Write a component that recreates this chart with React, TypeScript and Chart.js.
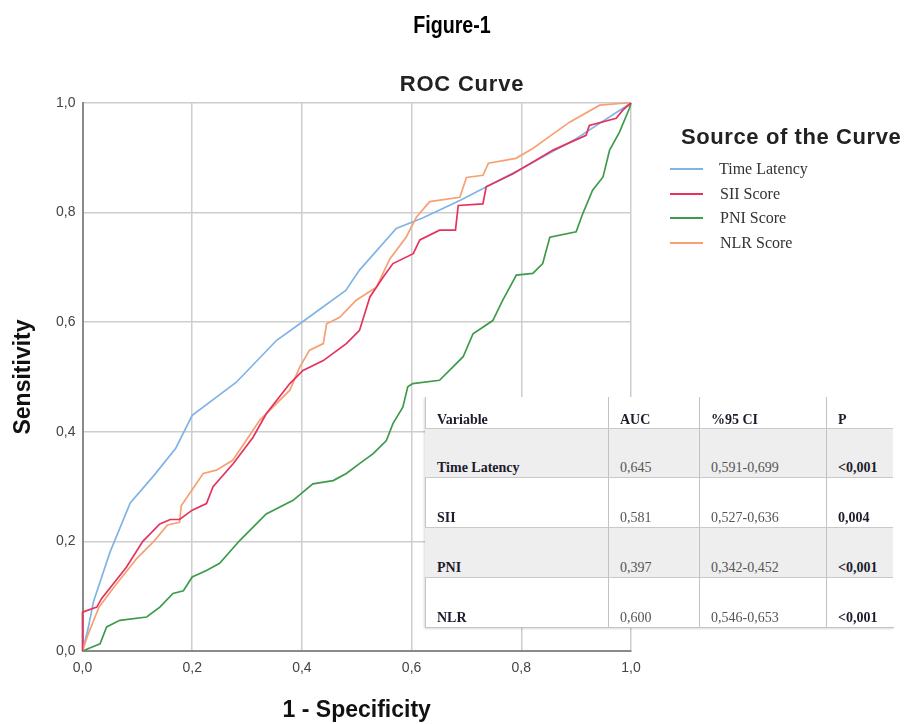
import React, { useEffect, useRef } from "react";
import { Chart, registerables } from "chart.js";

Chart.register(...registerables);

// ---- data ----
const seriesNames = ["Time Latency", "SII Score", "PNI Score", "NLR Score"];
const seriesColors = ["#80b3e6", "#e5325e", "#3f9b4c", "#f6a073"];

const timeLatency: number[][] = [
  [0, 0], [0.01, 0.04], [0.02, 0.09], [0.05, 0.18], [0.087, 0.27], [0.13, 0.32],
  [0.17, 0.37], [0.2, 0.43], [0.28, 0.49], [0.354, 0.567], [0.4, 0.6], [0.48, 0.658],
  [0.505, 0.695], [0.572, 0.771], [0.62, 0.79], [0.688, 0.822], [0.8, 0.88],
  [0.9, 0.935], [1, 1],
];

const siiScore: number[][] = [
  [0, 0], [0, 0.071], [0.026, 0.08], [0.035, 0.096], [0.08, 0.153], [0.11, 0.2],
  [0.141, 0.232], [0.16, 0.24], [0.177, 0.24], [0.2, 0.257], [0.226, 0.269],
  [0.238, 0.3], [0.275, 0.342], [0.311, 0.39], [0.335, 0.433], [0.378, 0.488],
  [0.402, 0.512], [0.439, 0.53], [0.481, 0.561], [0.505, 0.585], [0.524, 0.646],
  [0.548, 0.682], [0.566, 0.707], [0.603, 0.725], [0.615, 0.75], [0.651, 0.768],
  [0.68, 0.768], [0.685, 0.813], [0.73, 0.816], [0.736, 0.847], [0.785, 0.871],
  [0.858, 0.914], [0.918, 0.941], [0.924, 0.959], [0.973, 0.972], [0.985, 0.987],
  [1, 1],
];

const pniScore: number[][] = [
  [0, 0], [0.032, 0.013], [0.044, 0.044], [0.068, 0.056], [0.117, 0.062],
  [0.141, 0.08], [0.165, 0.105], [0.184, 0.11], [0.2, 0.135], [0.226, 0.147],
  [0.25, 0.16], [0.287, 0.202], [0.311, 0.226], [0.335, 0.25], [0.384, 0.275],
  [0.42, 0.305], [0.457, 0.311], [0.481, 0.324], [0.505, 0.342], [0.53, 0.36],
  [0.554, 0.384], [0.566, 0.415], [0.584, 0.445], [0.593, 0.482], [0.602, 0.488],
  [0.651, 0.494], [0.694, 0.537], [0.712, 0.579], [0.748, 0.603], [0.766, 0.64],
  [0.791, 0.686], [0.821, 0.689], [0.839, 0.707], [0.852, 0.755], [0.9, 0.765],
  [0.912, 0.798], [0.93, 0.841], [0.949, 0.865], [0.961, 0.914], [0.979, 0.947],
  [0.997, 0.99], [1, 1],
];

const nlrScore: number[][] = [
  [0, 0], [0.01, 0.03], [0.03, 0.08], [0.06, 0.12], [0.1, 0.17], [0.13, 0.2],
  [0.155, 0.23], [0.177, 0.235], [0.18, 0.265], [0.22, 0.324], [0.244, 0.33],
  [0.274, 0.348], [0.323, 0.421], [0.378, 0.476], [0.396, 0.518], [0.414, 0.549],
  [0.439, 0.561], [0.445, 0.597], [0.469, 0.609], [0.499, 0.64], [0.536, 0.664],
  [0.56, 0.715], [0.59, 0.755], [0.609, 0.792], [0.633, 0.82], [0.688, 0.828],
  [0.7, 0.864], [0.73, 0.868], [0.74, 0.89], [0.79, 0.899], [0.821, 0.917],
  [0.846, 0.935], [0.888, 0.965], [0.943, 0.996], [0.991, 1], [1, 1],
];

const tickValues = [0, 0.2, 0.4, 0.6, 0.8, 1.0];

const tableHeaders = ["Variable", "AUC", "%95 CI", "P"];
const tableVariables = ["Time Latency", "SII", "PNI", "NLR"];
const tableAuc = ["0,645", "0,581", "0,397", "0,600"];
const tableCi = ["0,591-0,699", "0,527-0,636", "0,342-0,452", "0,546-0,653"];
const tableP = ["<0,001", "0,004", "<0,001", "<0,001"];

const fmt = (v: number) => v.toFixed(1).replace(".", ",");
const toPts = (arr: number[][]) => arr.map(([x, y]) => ({ x, y }));

const SANS = "'Liberation Sans', Arial, sans-serif";
const SERIF = "'Liberation Serif', 'Times New Roman', serif";

export default function App() {
  const ref = useRef<HTMLCanvasElement | null>(null);

  useEffect(() => {
    if (!ref.current) return;
    const mk = (i: number, data: number[][]) => ({
      label: seriesNames[i],
      data: toPts(data),
      borderColor: seriesColors[i],
      backgroundColor: seriesColors[i],
      borderWidth: 1.7,
      pointRadius: 0,
      tension: 0,
      fill: false,
      clip: 4,
    });
    const chart = new Chart(ref.current, {
      type: "line",
      data: {
        datasets: [
          mk(1, siiScore),
          mk(3, nlrScore),
          mk(0, timeLatency),
          mk(2, pniScore),
        ],
      },
      options: {
        animation: false,
        responsive: false,
        maintainAspectRatio: false,
        layout: { padding: { left: 10, right: 273, top: 103, bottom: 0 } },
        plugins: {
          legend: { display: false },
          tooltip: { enabled: false },
          title: { display: false },
        },
        scales: {
          x: {
            type: "linear",
            min: 0,
            max: 1,
            afterBuildTicks: (s: any) => {
              s.ticks = tickValues.map((v) => ({ value: v }));
            },
            afterFit: (s: any) => {
              s.height = 73;
            },
            ticks: {
              callback: (v: any) => fmt(Number(v)),
              font: { family: SANS, size: 14 },
              color: "#444",
              padding: 9,
              maxRotation: 0,
            },
            grid: { color: "#cdcdcd", lineWidth: 1.5, drawTicks: false },
            border: { color: "#8a8a8a", width: 2 },
            title: {
              display: true,
              text: "1 - Specificity",
              font: { family: SANS, size: 23, weight: "bold" },
              color: "#111",
              padding: { top: 0, bottom: 0 },
            },
          },
          y: {
            type: "linear",
            min: 0,
            max: 1,
            afterBuildTicks: (s: any) => {
              s.ticks = tickValues.map((v) => ({ value: v }));
            },
            afterFit: (s: any) => {
              s.width = 72.5;
            },
            ticks: {
              callback: (v: any) => fmt(Number(v)),
              font: { family: SANS, size: 14 },
              color: "#444",
              padding: 7,
            },
            grid: { color: "#cdcdcd", lineWidth: 1.5, drawTicks: false },
            border: { color: "#8a8a8a", width: 2 },
            title: {
              display: true,
              text: "Sensitivity",
              font: { family: SANS, size: 23, weight: "bold" },
              color: "#111",
              padding: { top: 0, bottom: 0 },
            },
          },
        },
      } as any,
    });
    return () => chart.destroy();
  }, []);

  const colX = [425, 609, 700, 827, 893];
  const rowY = [397, 429, 478, 528, 578, 627];
  const cellText = (r: number, c: number) => {
    if (r === 0) return tableHeaders[c];
    const i = r - 1;
    return [tableVariables[i], tableAuc[i], tableCi[i], tableP[i]][c];
  };

  return (
    <div
      style={{
        position: "absolute",
        left: 0,
        top: 0,
        width: 904,
        height: 724,
        background: "#fff",
        overflow: "hidden",
      }}
    >
      <canvas
        ref={ref}
        width={904}
        height={724}
        style={{ position: "absolute", left: 0, top: 0, width: 904, height: 724 }}
      />
      <div
        style={{
          position: "absolute",
          left: 352,
          width: 200,
          top: 11,
          textAlign: "center",
          fontFamily: "'Liberation Sans Narrow', 'Arial Narrow', sans-serif",
          fontWeight: "bold",
          fontSize: 24,
          lineHeight: "28px",
          color: "#000",
          transform: "scaleX(0.82)",
        }}
      >
        Figure-1
      </div>
      <div
        style={{
          position: "absolute",
          left: 312,
          width: 300,
          top: 71,
          textAlign: "center",
          fontFamily: SANS,
          fontWeight: "bold",
          fontSize: 22,
          letterSpacing: 0.8,
          lineHeight: "26px",
          color: "#222",
        }}
      >
        ROC Curve
      </div>
      {/* legend */}
      <div
        style={{
          position: "absolute",
          left: 681,
          top: 124,
          fontFamily: SANS,
          fontWeight: "bold",
          fontSize: 22,
          letterSpacing: 0.6,
          lineHeight: "26px",
          color: "#222",
          whiteSpace: "nowrap",
        }}
      >
        Source of the Curve
      </div>
      {seriesNames.map((n, i) => (
        <div
          key={n}
          style={{
            position: "absolute",
            left: 670,
            top: 158 + i * 24.5,
            height: 22,
            display: "flex",
            alignItems: "center",
            whiteSpace: "nowrap",
          }}
        >
          <div style={{ width: 33, height: 2, background: seriesColors[i] }} />
          <div
            style={{
              marginLeft: i === 0 ? 16 : 17,
              fontFamily: SERIF,
              fontSize: 16,
              color: "#333",
            }}
          >
            {n}
          </div>
        </div>
      ))}
      {/* table */}
      <div
        style={{
          position: "absolute",
          left: colX[0],
          top: rowY[0],
          width: colX[4] - colX[0],
          height: rowY[5] - rowY[0],
          background: "#fff",
          borderLeft: "1px solid #c4c4c4",
          borderBottom: "1px solid #c4c4c4",
          boxShadow: "-1px 1px 2px rgba(0,0,0,0.15)",
        }}
      />
      {[0, 1, 2, 3, 4].map((r) =>
        [0, 1, 2, 3].map((c) => {
          const bold = r === 0 || c === 0 || c === 3;
          return (
            <div
              key={r + "-" + c}
              style={{
                position: "absolute",
                left: colX[c],
                top: rowY[r],
                width: colX[c + 1] - colX[c],
                height: rowY[r + 1] - rowY[r],
                boxSizing: "border-box",
                background: r === 1 || r === 3 ? "#eeeeee" : "transparent",
                borderBottom: r < 4 ? "1px solid #c9c9c9" : "none",
                borderRight: c < 3 ? "1px solid #c2c2c2" : "none",
                display: "flex",
                alignItems: "flex-end",
                paddingLeft: c === 0 ? 12 : 11,
                paddingBottom: r === 0 ? 0 : 1,
                fontFamily: SERIF,
                fontSize: 14,
                lineHeight: "17px",
                fontWeight: bold ? "bold" : "normal",
                color: bold ? "#1c1c2c" : "#555",
                whiteSpace: "nowrap",
              }}
            >
              {cellText(r, c)}
            </div>
          );
        })
      )}
    </div>
  );
}
